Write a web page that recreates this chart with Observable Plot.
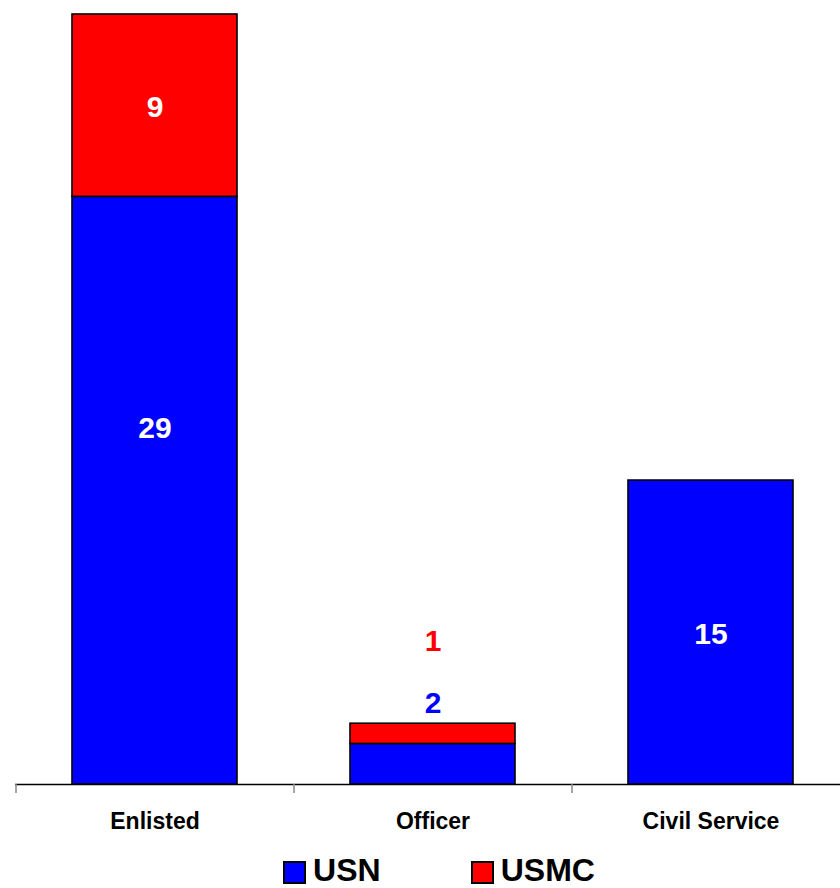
<!DOCTYPE html>
<html>
<head>
<meta charset="utf-8">
<script src="https://cdn.jsdelivr.net/npm/d3@7"></script>
<script src="https://cdn.jsdelivr.net/npm/@observablehq/plot@0.6"></script>
<style>
  html, body { margin: 0; padding: 0; background: #fff; }
  body { width: 840px; height: 888px; overflow: hidden; font-family: "Liberation Sans", Arial, sans-serif; }
  #legend { display: flex; justify-content: center; align-items: center; height: 36px; line-height: 1; font-weight: bold; font-size: 32px; padding-left: 38px; }
  .item { display: flex; align-items: center; }
  .sw { width: 19px; height: 19px; border: 2px solid #000; margin-right: 7px; margin-top: 4px; }
  .gap { width: 90px; }
</style>
</head>
<body>
<div id="chart"></div>
<div id="legend"></div>
<script>
const categories = ["Enlisted", "Officer", "Civil Service"];
const seriesNames = ["USN", "USMC"];
const usnValues = [29, 2, 15];
const usmcValues = [9, 1, 0];
const seriesColors = ["#0000FF", "#FF0000"];

const rows = [];
categories.forEach((c, i) => {
  if (usnValues[i] > 0) rows.push({category: c, series: "USN", value: usnValues[i]});
  if (usmcValues[i] > 0) rows.push({category: c, series: "USMC", value: usmcValues[i]});
});

const stackOpts = {x: "category", y: "value", z: "series", order: seriesNames};
const font = {fontFamily: "Liberation Sans, Arial, sans-serif", fontWeight: "bold", fontSize: 30};

const chart = Plot.plot({
  width: 840,
  height: 852,
  marginTop: 14,
  marginBottom: 68,
  marginLeft: 15,
  marginRight: 0,
  style: {background: "#fff", fontFamily: "Liberation Sans, Arial, sans-serif"},
  x: {domain: categories, range: [15, 849], paddingInner: 0.407, paddingOuter: 0.2035, label: null, axis: null},
  y: {domain: [0, 38], axis: null},
  color: {domain: seriesNames, range: seriesColors},
  marks: [
    Plot.barY(rows, Plot.stackY({...stackOpts, fill: "series", stroke: "#000", strokeWidth: 1.6})),
    Plot.ruleY([0], {stroke: "#000", strokeWidth: 1.5}),
    Plot.axisX({ticks: categories, tickSize: 9, dx: -139, tickFormat: () => "", stroke: "#888", strokeWidth: 1.5}),
    Plot.axisX({ticks: categories, tickSize: 0, tickPadding: 28, fontSize: 23, fontWeight: "bold", fill: "#000", fontFamily: "Liberation Sans, Arial, sans-serif"}),
    // white labels centered in segments
    Plot.text(rows, Plot.stackY({...stackOpts, ...font, fill: "white", dy: 2,
      text: d => (d.category === "Enlisted" && d.series === "USMC") || d.category === "Civil Service" ? String(d.value) : ""})),
    Plot.text(rows, Plot.stackY({...stackOpts, ...font, fill: "white", dy: -62,
      text: d => (d.category === "Enlisted" && d.series === "USN") ? String(d.value) : ""})),
    // Officer labels above the bar
    Plot.text(rows, Plot.stackY2({...stackOpts, ...font, fill: "series", dy: -41,
      text: d => (d.category === "Officer" && d.series === "USN") ? String(d.value) : ""})),
    Plot.text(rows, Plot.stackY2({...stackOpts, ...font, fill: "series", dy: -82,
      text: d => (d.category === "Officer" && d.series === "USMC") ? String(d.value) : ""}))
  ]
});
document.getElementById("chart").appendChild(chart);

const legend = document.getElementById("legend");
seriesNames.forEach((s, i) => {
  if (i > 0) { const g = document.createElement("div"); g.className = "gap"; legend.appendChild(g); }
  const item = document.createElement("div");
  item.className = "item";
  const sw = document.createElement("div");
  sw.className = "sw";
  sw.style.background = seriesColors[i];
  const t = document.createElement("span");
  t.textContent = s;
  item.appendChild(sw);
  item.appendChild(t);
  legend.appendChild(item);
});
</script>
</body>
</html>
